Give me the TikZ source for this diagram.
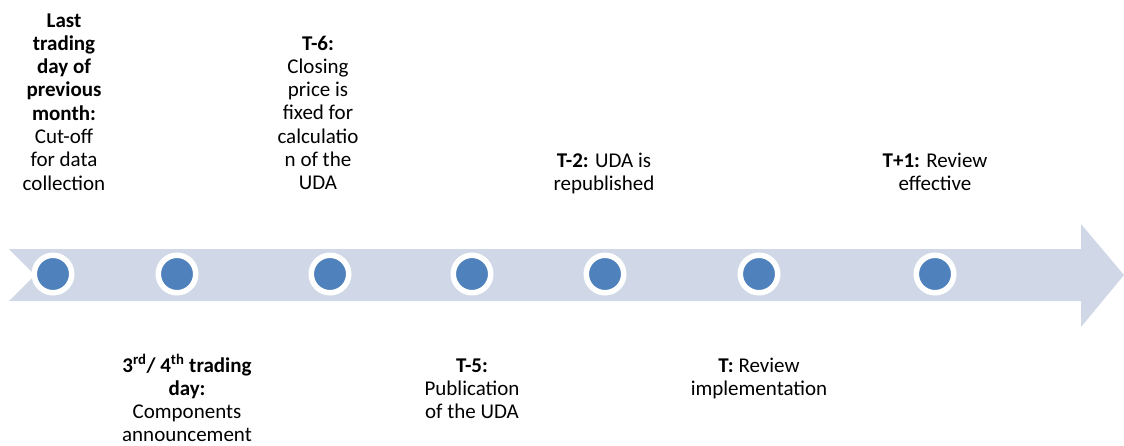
\documentclass[tikz,border=0pt]{standalone}
\usepackage{fontspec}
\setmainfont{Carlito}
\definecolor{band}{RGB}{208,216,232}
\definecolor{dotblue}{RGB}{79,129,189}
\tikzset{
  dot/.style={circle, fill=dotblue, draw=white, line width=5.5pt, minimum size=37.5pt, inner sep=0pt},
  lbl/.style={anchor=base, inner sep=0pt, font=\fontsize{21}{23.3}\selectfont, text=black}
}
\newcommand{\lines}[1]{\begin{tabular}[t]{@{}c@{}}#1\end{tabular}}
\begin{document}
\begin{tikzpicture}[x=1pt, y=-1pt]
\useasboundingbox (0,0) rectangle (1124,445);
\fill[band] (9,249) -- (1081,249) -- (1081,224) -- (1124,275) -- (1081,327) -- (1081,301) -- (9,301) -- (35,275) -- cycle;
\node[dot] (d1) at (53,274) {};
\node[dot] (d2) at (177,274) {};
\node[dot] (d3) at (330,274) {};
\node[dot] (d4) at (472,274) {};
\node[dot] (d5) at (605,274) {};
\node[dot] (d6) at (759,274) {};
\node[dot] (d7) at (935,274) {};
\node[lbl] (t1) at (64,27) {\lines{\textbf{Last}\\\textbf{trading}\\\textbf{day of}\\\textbf{previous}\\\textbf{month:}\\Cut-off\\for data\\collection}};
\node[lbl] (t3) at (318,50) {\lines{\textbf{T-6:}\\Closing\\price is\\fixed for\\calculatio\\n of the\\UDA}};
\node[lbl] (t5) at (604,167) {\lines{\textbf{T-2:} UDA is\\republished}};
\node[lbl] (t7) at (935,167) {\lines{\textbf{T+1:} Review\\effective}};
\node[lbl] (t2) at (187,372) {\lines{\textbf{3\textsuperscript{rd}/ 4\textsuperscript{th} trading}\\\textbf{day:}\\Components\\announcement}};
\node[lbl] (t4) at (472,372) {\lines{\textbf{T-5:}\\Publication\\of the UDA}};
\node[lbl] (t6) at (759,372) {\lines{\textbf{T:} Review\\implementation}};
\end{tikzpicture}
\end{document}
